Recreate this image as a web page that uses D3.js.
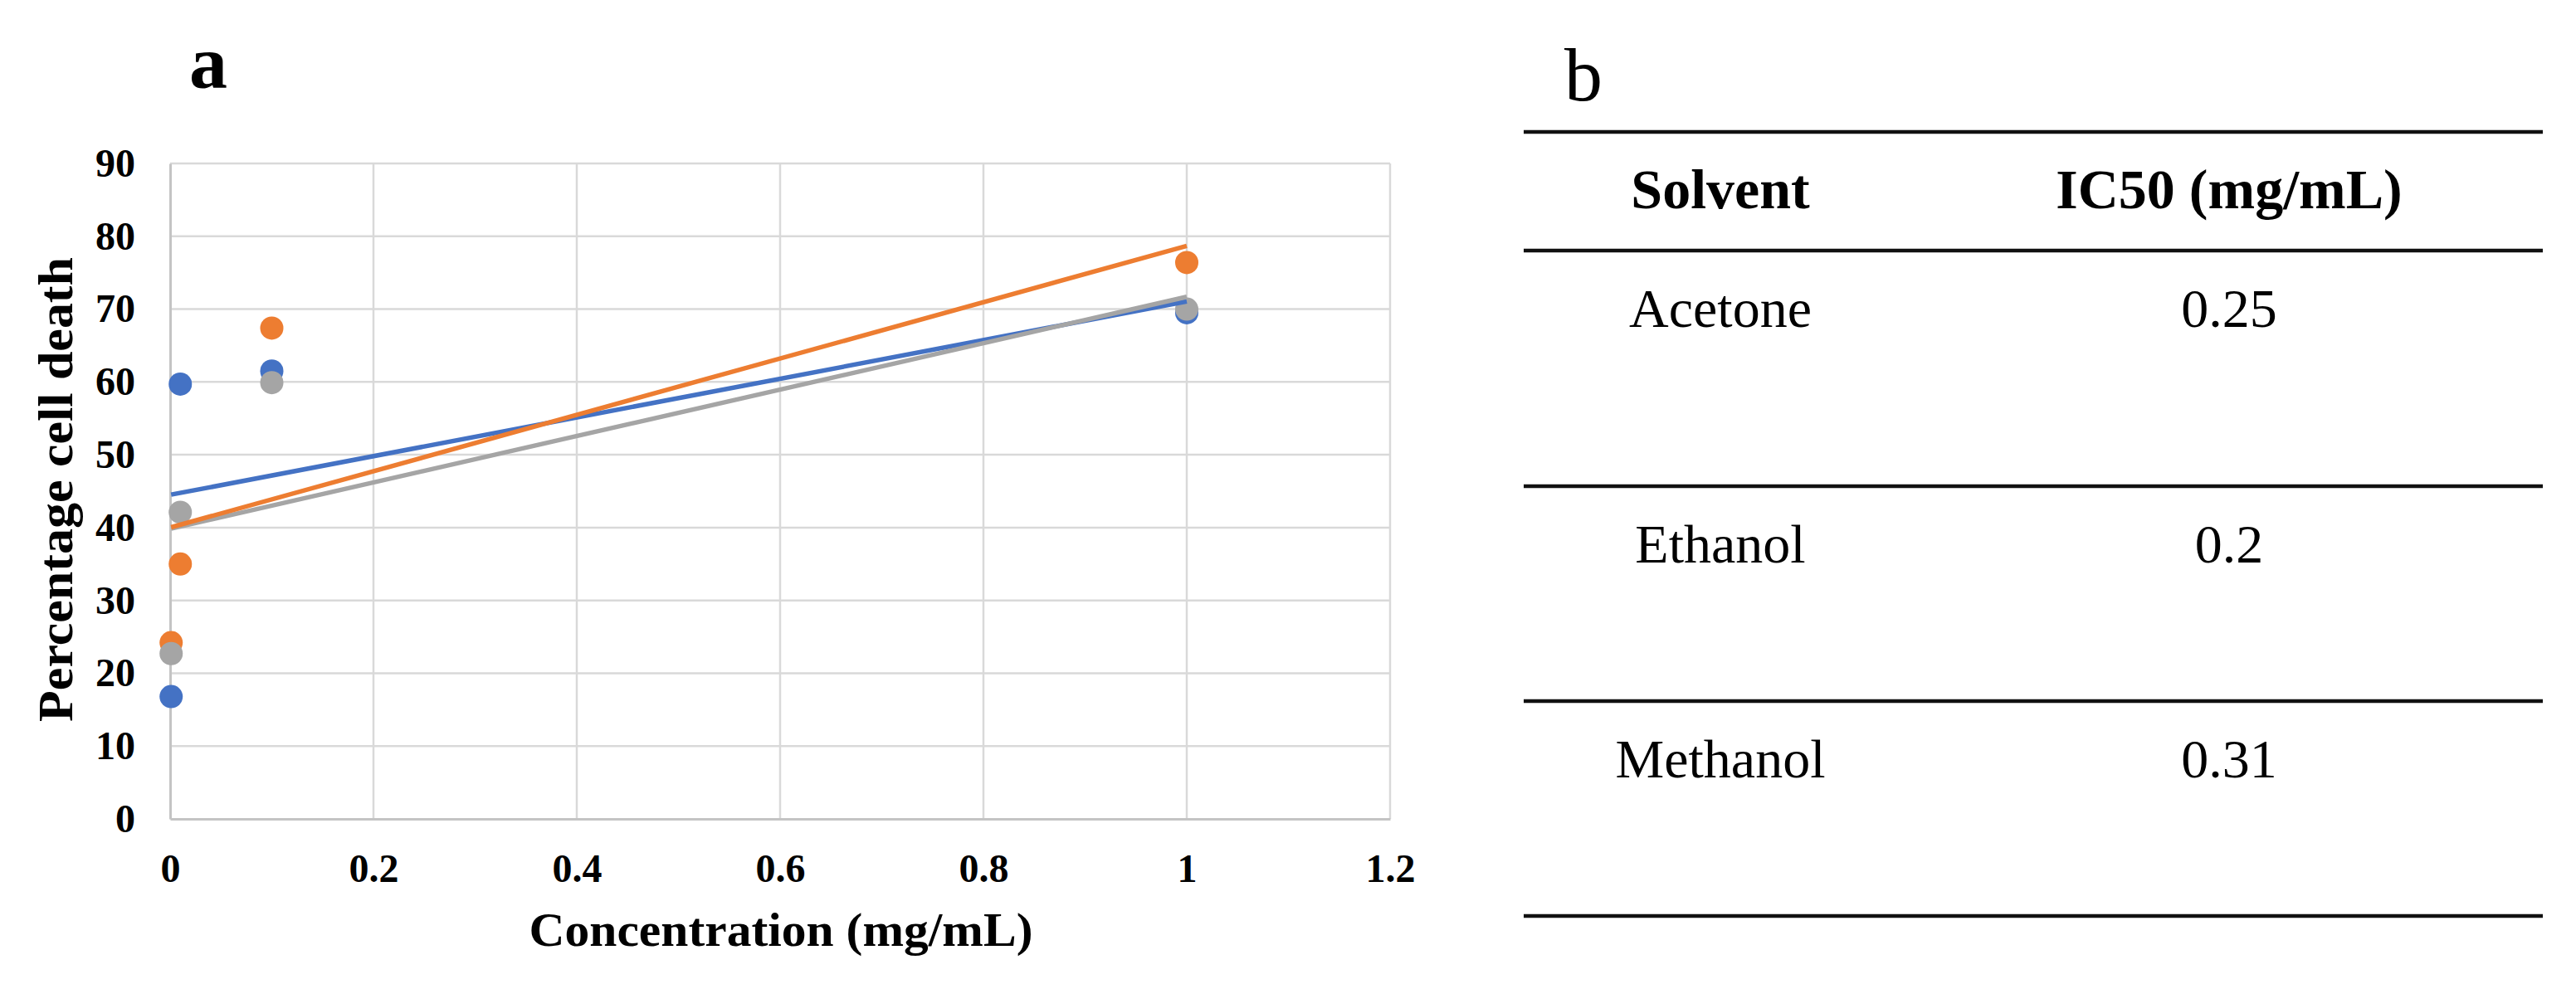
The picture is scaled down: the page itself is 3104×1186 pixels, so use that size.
<!DOCTYPE html>
<html>
<head>
<meta charset="utf-8">
<script src="https://cdn.jsdelivr.net/npm/d3@7"></script>
<style>
  html, body { margin: 0; padding: 0; background: #ffffff; }
  svg { display: block; }
</style>
</head>
<body>
<div id="chart"></div>
<script>
// ---------------- DATA ----------------
const concentrations = [0.001, 0.01, 0.1, 1];            // mg/mL
const seriesNames   = ["Series 1", "Series 2", "Series 3"];
const series1Values = [16.8, 59.7, 61.5, 69.5];         // blue
const series2Values = [24.2, 35.0, 67.4, 76.4];         // orange
const series3Values = [22.7, 42.1, 59.9, 70.0];         // gray
const xTickValues = [0, 0.2, 0.4, 0.6, 0.8, 1, 1.2];
const yTickValues = [0, 10, 20, 30, 40, 50, 60, 70, 80, 90];
const xTitle = "Concentration (mg/mL)";
const yTitle = "Percentage cell death";
const panelA = "a";
const panelB = "b";
const tableHeaders = ["Solvent", "IC50 (mg/mL)"];
const solvents = ["Acetone", "Ethanol", "Methanol"];
const ic50Values = ["0.25", "0.2", "0.31"];

// ---------------- LAYOUT ----------------
const W = 3104, H = 1186;
const colors = ["#4472C4", "#ED7D31", "#A5A5A5"];
const serif = "'Liberation Serif', 'Times New Roman', serif";

const svg = d3.select("#chart").append("svg")
  .attr("width", W).attr("height", H)
  .attr("viewBox", `0 0 ${W} ${H}`);
svg.append("rect").attr("width", W).attr("height", H).attr("fill", "#fff");

const x = d3.scaleLinear().domain([0, 1.2]).range([205, 1675]);
const y = d3.scaleLinear().domain([0, 90]).range([987, 197]);

// gridlines
const grid = svg.append("g");
grid.selectAll("line.h").data(yTickValues.filter(d => d !== 0)).join("line")
  .attr("x1", x(0)).attr("x2", x(1.2))
  .attr("y1", d => y(d)).attr("y2", d => y(d))
  .attr("stroke", "#d9d9d9").attr("stroke-width", 2.5);
grid.selectAll("line.v").data(xTickValues.filter(d => d !== 0)).join("line")
  .attr("x1", d => x(d)).attr("x2", d => x(d))
  .attr("y1", y(0)).attr("y2", y(90))
  .attr("stroke", "#d9d9d9").attr("stroke-width", 2.5);

// axes
const fmt = d => (d === 0 ? "0" : d3.format("~g")(d));
const gy = svg.append("g").attr("transform", `translate(${x(0)},0)`)
  .call(d3.axisLeft(y).tickValues(yTickValues).tickSize(0).tickPadding(42).tickFormat(fmt));
const gx = svg.append("g").attr("transform", `translate(0,${y(0)})`)
  .call(d3.axisBottom(x).tickValues(xTickValues).tickSize(0).tickPadding(42).tickFormat(fmt));
[gx, gy].forEach(g => {
  g.select(".domain").attr("stroke", "#c4c4c4").attr("stroke-width", 3);
  g.selectAll("text")
    .attr("font-family", serif).attr("font-weight", "bold")
    .attr("font-size", 48).attr("fill", "#000");
});

// axis titles
svg.append("text")
  .attr("x", 941).attr("y", 1140)
  .attr("text-anchor", "middle")
  .attr("font-family", serif).attr("font-weight", "bold").attr("font-size", 58)
  .attr("textLength", 607).attr("lengthAdjust", "spacingAndGlyphs")
  .text(xTitle);
svg.append("text")
  .attr("transform", "translate(87,590) rotate(-90)")
  .attr("text-anchor", "middle")
  .attr("font-family", serif).attr("font-weight", "bold").attr("font-size", 60)
  .attr("textLength", 560).attr("lengthAdjust", "spacingAndGlyphs")
  .text(yTitle);

// panel labels
svg.append("text").attr("x", 228).attr("y", 106)
  .attr("font-family", serif).attr("font-weight", "bold").attr("font-size", 92)
  .text(panelA);
svg.append("text").attr("x", 1885).attr("y", 121)
  .attr("font-family", serif).attr("font-size", 92)
  .text(panelB);

// series
const allSeries = [series1Values, series2Values, series3Values].map((vals, i) => ({
  name: seriesNames[i], color: colors[i],
  points: concentrations.map((c, j) => ({ x: c, y: vals[j] }))
}));

// points
allSeries.forEach(s => {
  svg.append("g").selectAll("circle").data(s.points).join("circle")
    .attr("cx", d => x(d.x)).attr("cy", d => y(d.y)).attr("r", 14)
    .attr("fill", s.color);
});

// linear trendlines (least squares of each series)
function linFit(pts) {
  const mx = d3.mean(pts, d => d.x), my = d3.mean(pts, d => d.y);
  const sxy = d3.sum(pts, d => (d.x - mx) * (d.y - my));
  const sxx = d3.sum(pts, d => (d.x - mx) * (d.x - mx));
  const b = sxy / sxx;
  return { a: my - b * mx, b };
}
const line = d3.line().x(d => x(d.x)).y(d => y(d.y));
[0, 2, 1].forEach(i => {
  const s = allSeries[i];
  const f = linFit(s.points);
  const x0 = d3.min(concentrations), x1 = d3.max(concentrations);
  svg.append("path")
    .datum([{ x: x0, y: f.a + f.b * x0 }, { x: x1, y: f.a + f.b * x1 }])
    .attr("d", line)
    .attr("fill", "none").attr("stroke", s.color).attr("stroke-width", 5.5);
});

// ---------------- TABLE ----------------
const rowBounds = [159, 302, 586, 845, 1104];
const colCenters = [2073, 2686];
const tx0 = 1836, tx1 = 3064;
svg.append("g").selectAll("line").data(rowBounds).join("line")
  .attr("x1", tx0).attr("x2", tx1)
  .attr("y1", d => d).attr("y2", d => d)
  .attr("stroke", "#111").attr("stroke-width", 4.5);

const tableRows = [tableHeaders].concat(solvents.map((s, i) => [s, ic50Values[i]]));
tableRows.forEach((row, r) => {
  row.forEach((cell, c) => {
    svg.append("text")
      .attr("x", colCenters[c]).attr("y", rowBounds[r] + 92)
      .attr("text-anchor", "middle")
      .attr("font-family", serif)
      .attr("font-weight", r === 0 ? "bold" : "normal")
      .attr("font-size", r === 0 ? 68 : 66)
      .attr("fill", "#000")
      .text(cell);
  });
});
</script>
</body>
</html>
